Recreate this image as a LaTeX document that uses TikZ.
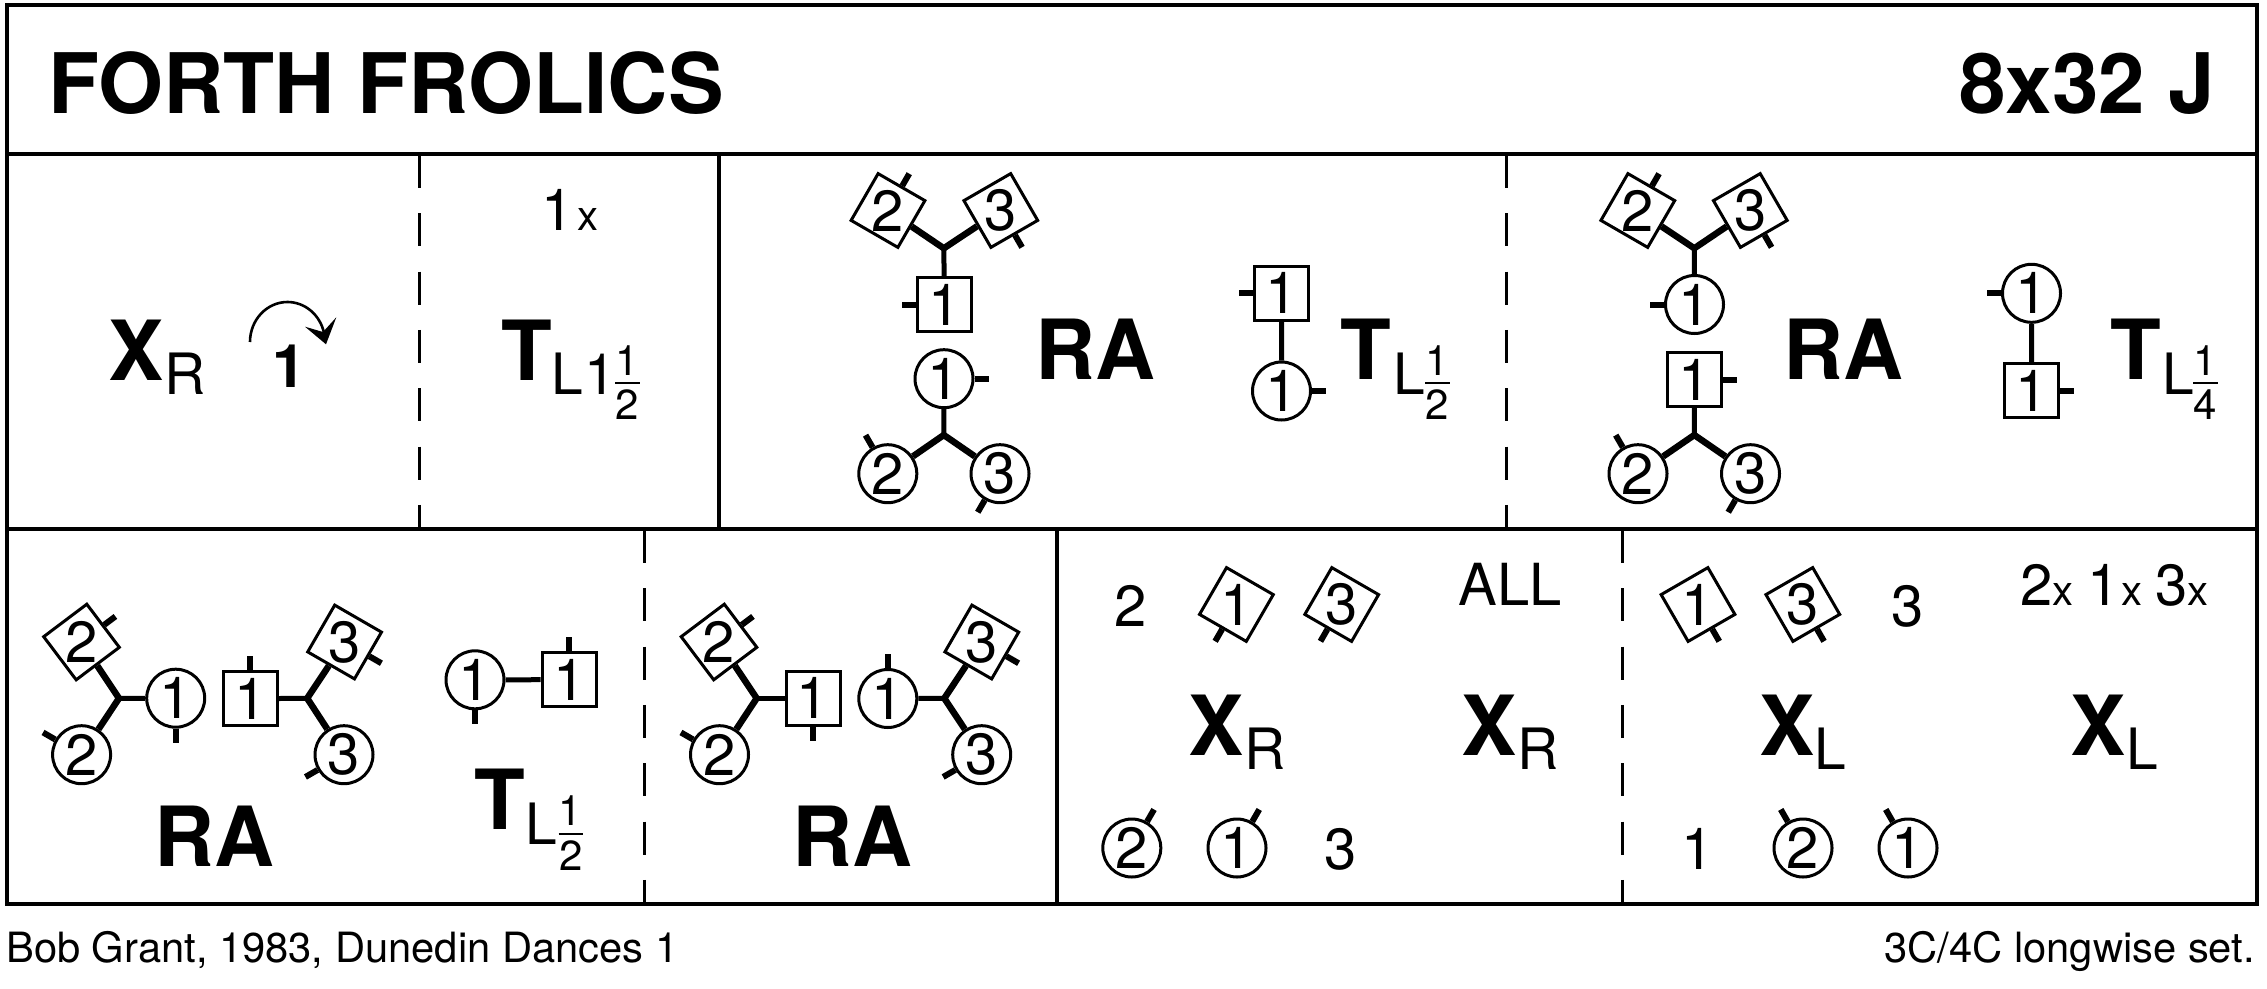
\documentclass[tikz,border=0pt]{standalone}
\usepackage{fontspec}
\setmainfont{TeX Gyre Heros}
\tikzset{
  frameline/.style={line width=3.6pt},
  dashline/.style={line width=3pt,dash pattern=on 33pt off 25.3pt},
  man/.style={draw,rectangle,fill=white,line width=3pt,minimum size=54pt,inner sep=0pt,font=\fontsize{58}{60}\selectfont},
  lady/.style={draw,circle,fill=white,line width=3pt,minimum size=58pt,inner sep=0pt,font=\fontsize{58}{60}\selectfont},
  num/.style={inner sep=0pt,font=\fontsize{58}{60}\selectfont},
  shoulder/.style={line width=6pt},
  hold/.style={line width=6.5pt},
  handhold/.style={line width=5pt},
  callname/.style={anchor=base,inner sep=0pt,font=\fontsize{83}{85}\selectfont\bfseries},
  subname/.style={anchor=base,inner sep=0pt,font=\fontsize{57}{60}\selectfont},
  plain/.style={anchor=base,inner sep=0pt,font=\fontsize{58}{60}\selectfont},
  times/.style={anchor=base,inner sep=0pt,font=\fontsize{42}{44}\selectfont},
  fracnum/.style={anchor=base,inner sep=0pt,font=\fontsize{42}{44}\selectfont},
  fracbar/.style={line width=2.4pt},
  foot/.style={inner sep=0pt,font=\fontsize{41.7}{44}\selectfont},
}
\begin{document}
\begin{tikzpicture}[x=1pt,y=1pt]
	\useasboundingbox (0,-988) rectangle (2267,0);
	% frame and panels
	\draw[frameline] (7,-5) rectangle (2257,-904);
	\draw[frameline] (7,-154) -- (2257,-154);
	\draw[frameline] (7,-529) -- (2257,-529);
	\draw[frameline] (719,-154) -- (719,-529);
	\draw[frameline] (1057,-529) -- (1057,-904);
	\draw[dashline] (419,-155) -- (419,-529);
	\draw[dashline] (1506,-155) -- (1506,-529);
	\draw[dashline] (644,-530) -- (644,-904);
	\draw[dashline] (1622,-530) -- (1622,-904);
	% title and footer
	\node[anchor=base west,inner sep=0pt,font=\fontsize{83.5}{85}\selectfont\bfseries] (title) at (48,-113) {FORTH FROLICS};
	\node[anchor=base east,inner sep=0pt,font=\fontsize{83.5}{85}\selectfont\bfseries] (form) at (2215,-113) {8x32 J};
	\node[foot,anchor=base west] (source) at (6,-962) {Bob Grant, 1983, Dunedin Dances 1};
	\node[foot,anchor=base east] (setform) at (2255,-962) {3C/4C longwise set.};
	% first panel
	\node[callname] (xa) at (136,-380) {X};
	\node[subname] (xar) at (185,-394) {R};
	\node[anchor=base,inner sep=0pt,font=\fontsize{60}{62}\selectfont\bfseries] (casta) at (289.5,-387) {1};
	\draw[line width=2.6pt] (250,-342) arc[start angle=180,end angle=13,x radius=37.5,y radius=40];
	\fill (336.3,-317.3) -- (326,-344.3) -- (305,-326.7) -- (323,-332) -- cycle;
	\node[plain] (bar1) at (558,-230) {1};
	\node[times] (bar1x) at (587.5,-230) {x};
	\node[callname] (ta) at (526.5,-380) {T};
	\node[subname] (tal) at (567.5,-394) {L};
	\node[subname] (tal1) at (600,-394) {1};
	\node[fracnum] (tan) at (627,-375) {1};
	\node[fracnum] (tad) at (627.5,-419.5) {2};
	\draw[fracbar] (615,-383) -- (640,-383);
	% rights and lefts, first half
	\node[man,rotate=-30] (c2) at (888,-210.5) {}; \node[num] (c2n) at (c2) {2}; \draw[shoulder] (c2.90) -- ++(60:14);
	\node[man,rotate=30] (c3) at (1000.8,-210.5) {}; \node[num] (c3n) at (c3) {3}; \draw[shoulder] (c3.-90) -- ++(-60:14);
	\node[man] (c1) at (944.5,-304.5) {1}; \draw[shoulder] (c1.180) -- ++(180:14);
	\coordinate (cj) at (943.8,-248.3);
	\draw[hold] (c2) -- (cj) -- (c3); \draw[handhold] (cj) -- (c1);
	\node[lady] (k1) at (944,-378.7) {1}; \draw[shoulder] (k1.0) -- ++(0:14);
	\node[lady] (k2) at (887.8,-473.7) {2}; \draw[shoulder] (k2.120) -- ++(120:14);
	\node[lady] (k3) at (1000,-473.7) {3}; \draw[shoulder] (k3.-120) -- ++(-120:14);
	\coordinate (kj) at (943.8,-435);
	\draw[hold] (k2) -- (kj) -- (k3); \draw[handhold] (kj) -- (k1);
	\node[callname] (rac) at (1095,-379.3) {RA};
	\node[man] (m1) at (1281.6,-293.3) {1}; \draw[shoulder] (m1.180) -- ++(180:14);
	\node[lady] (n1) at (1281.5,-391) {1}; \draw[shoulder] (n1.0) -- ++(0:14);
	\draw[handhold] (m1) -- (n1);
	\node[callname] (tc) at (1366,-379.3) {T};
	\node[subname] (tcl) at (1409.5,-394) {L};
	\node[fracnum] (tcn) at (1437,-375) {1};
	\node[fracnum] (tcd) at (1437.5,-419.5) {2};
	\draw[fracbar] (1425,-383) -- (1450,-383);
	% rights and lefts, second half
	\node[man,rotate=-30] (d2) at (1637.8,-210.5) {}; \node[num] (d2n) at (d2) {2}; \draw[shoulder] (d2.90) -- ++(60:14);
	\node[man,rotate=30] (d3) at (1750.3,-210.5) {}; \node[num] (d3n) at (d3) {3}; \draw[shoulder] (d3.-90) -- ++(-60:14);
	\node[lady] (d1) at (1694.5,-304.5) {1}; \draw[shoulder] (d1.180) -- ++(180:14);
	\coordinate (dj) at (1694.3,-248.3);
	\draw[hold] (d2) -- (dj) -- (d3); \draw[handhold] (dj) -- (d1);
	\node[man] (l1) at (1694.5,-379.5) {1}; \draw[shoulder] (l1.0) -- ++(0:14);
	\node[lady] (l2) at (1638,-473.7) {2}; \draw[shoulder] (l2.120) -- ++(120:14);
	\node[lady] (l3) at (1750.5,-473.7) {3}; \draw[shoulder] (l3.-120) -- ++(-120:14);
	\coordinate (lj) at (1694.3,-435);
	\draw[hold] (l2) -- (lj) -- (l3); \draw[handhold] (lj) -- (l1);
	\node[callname] (rad) at (1843.6,-379.3) {RA};
	\node[lady] (o1) at (2031.5,-293.3) {1}; \draw[shoulder] (o1.180) -- ++(180:14);
	\node[man] (q1) at (2031.7,-390.7) {1}; \draw[shoulder] (q1.0) -- ++(0:14);
	\draw[handhold] (o1) -- (q1);
	\node[callname] (td) at (2136,-379.3) {T};
	\node[subname] (tdl) at (2178.5,-394) {L};
	\node[fracnum] (tdn) at (2205,-375) {1};
	\node[fracnum] (tdd) at (2205,-419.5) {4};
	\draw[fracbar] (2193,-383) -- (2218,-383);
	% bottom left
	\node[man,rotate=37] (e2) at (81.5,-642) {}; \node[num] (e2n) at (e2) {2}; \draw[shoulder] (e2.0) -- ++(37:14);
	\node[lady] (f2) at (81.6,-754.7) {2}; \draw[shoulder] (f2.150) -- ++(150:14);
	\node[lady] (e1) at (175.7,-698.2) {1}; \draw[shoulder] (e1.-90) -- ++(-90:14);
	\coordinate (ej) at (119,-698.3);
	\draw[hold] (e2) -- (ej) -- (f2); \draw[handhold] (ej) -- (e1);
	\node[man] (f1) at (250.4,-698.7) {1}; \draw[shoulder] (f1.90) -- ++(90:14);
	\node[man,rotate=-30] (e3) at (344.6,-642) {}; \node[num] (e3n) at (e3) {3}; \draw[shoulder] (e3.0) -- ++(-30:14);
	\node[lady] (f3) at (344,-754.7) {3}; \draw[shoulder] (f3.210) -- ++(210:14);
	\coordinate (fj) at (307.2,-698.3);
	\draw[hold] (e3) -- (fj) -- (f3); \draw[handhold] (fj) -- (f1);
	\node[callname] (rae) at (214,-866.7) {RA};
	\node[lady] (u1) at (475,-679.8) {1}; \draw[shoulder] (u1.-90) -- ++(-90:14);
	\node[man] (v1) at (569.2,-679.7) {1}; \draw[shoulder] (v1.90) -- ++(90:14);
	\draw[handhold] (u1) -- (v1);
	\node[callname] (te) at (500.3,-829.5) {T};
	\node[subname] (tel) at (541.5,-844) {L};
	\node[fracnum] (ten) at (570.5,-825.5) {1};
	\node[fracnum] (ted) at (571,-870) {2};
	\draw[fracbar] (558.5,-833.7) -- (583,-833.7);
	% second of bottom
	\node[man,rotate=37] (g2) at (719,-642) {}; \node[num] (g2n) at (g2) {2}; \draw[shoulder] (g2.0) -- ++(37:14);
	\node[lady] (h2) at (719.5,-754.7) {2}; \draw[shoulder] (h2.150) -- ++(150:14);
	\node[man] (g1) at (813,-698.3) {1}; \draw[shoulder] (g1.-90) -- ++(-90:14);
	\coordinate (gj) at (756.7,-698.3);
	\draw[hold] (g2) -- (gj) -- (h2); \draw[handhold] (gj) -- (g1);
	\node[lady] (h1) at (887.8,-698.5) {1}; \draw[shoulder] (h1.90) -- ++(90:14);
	\node[man,rotate=-30] (g3) at (981.8,-642) {}; \node[num] (g3n) at (g3) {3}; \draw[shoulder] (g3.0) -- ++(-30:14);
	\node[lady] (h3) at (981.7,-754.7) {3}; \draw[shoulder] (h3.210) -- ++(210:14);
	\coordinate (hj) at (944.3,-698.3);
	\draw[hold] (g3) -- (hj) -- (h3); \draw[handhold] (hj) -- (h1);
	\node[callname] (rag) at (852,-866.7) {RA};
	% crossing panel, right hands
	\node[plain] (two) at (1131,-626) {2};
	\node[man,rotate=-30] (s1) at (1236.4,-604.5) {}; \node[num] (s1n) at (s1) {1}; \draw[shoulder] (s1.-90) -- ++(-120:14);
	\node[man,rotate=-30] (s3) at (1341.7,-604.5) {}; \node[num] (s3n) at (s3) {3}; \draw[shoulder] (s3.-90) -- ++(-120:14);
	\node[plain] (all) at (1510,-605) {ALL};
	\node[callname] (xe) at (1216,-755) {X};
	\node[subname] (xer) at (1265,-769.3) {R};
	\node[callname] (xf) at (1489.5,-755) {X};
	\node[subname] (xfr) at (1538.5,-769.3) {R};
	\node[lady] (w2) at (1131.8,-848) {2}; \draw[shoulder] (w2.60) -- ++(60:14);
	\node[lady] (w1) at (1237,-848) {1}; \draw[shoulder] (w1.60) -- ++(60:14);
	\node[plain] (three) at (1341,-869.3) {3};
	% crossing panel, left hands
	\node[man,rotate=30] (y1) at (1698,-604.5) {}; \node[num] (y1n) at (y1) {1}; \draw[shoulder] (y1.-90) -- ++(-60:14);
	\node[man,rotate=30] (y3) at (1802.8,-604.5) {}; \node[num] (y3n) at (y3) {3}; \draw[shoulder] (y3.-90) -- ++(-60:14);
	\node[plain] (threeb) at (1908,-626) {3};
	\node[plain] (bar2) at (2037,-605) {2};
	\node[times] (bar2x) at (2063,-605) {x};
	\node[plain] (bar3) at (2104,-605) {1};
	\node[times] (bar3x) at (2132,-605) {x};
	\node[plain] (bar4) at (2172,-605) {3};
	\node[times] (bar4x) at (2198,-605) {x};
	\node[callname] (xg) at (1787,-755) {X};
	\node[subname] (xgl) at (1830.5,-769.3) {L};
	\node[callname] (xh) at (2098,-755) {X};
	\node[subname] (xhl) at (2142.5,-769.3) {L};
	\node[plain] (oneb) at (1698,-869) {1};
	\node[lady] (z2) at (1803,-848) {2}; \draw[shoulder] (z2.120) -- ++(120:14);
	\node[lady] (z1) at (1908,-848) {1}; \draw[shoulder] (z1.120) -- ++(120:14);
\end{tikzpicture}
\end{document}
